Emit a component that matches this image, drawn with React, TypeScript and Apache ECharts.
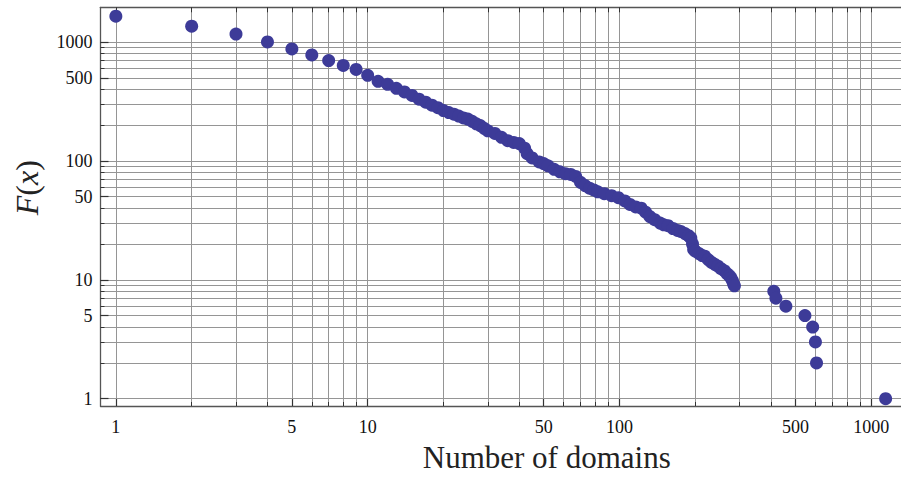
import React, { useEffect, useRef } from "react";
import * as echarts from "echarts";

// Number of domains (x) and F(x) (y)
const xValues = [
  1, 2, 3, 4, 5, 6, 7, 8, 9, 10, 11, 12, 13, 14, 15, 16, 17, 18, 19, 20,
  21, 22, 23, 24, 25, 26, 27, 28, 29, 30, 32, 34, 36, 38, 40, 42, 43, 45,
  48, 50, 52, 55, 58, 61, 64, 67, 70, 73, 76, 79, 82, 87, 93, 99, 105, 110,
  116, 122, 127, 132, 138, 145, 150, 156, 163, 170, 175, 182, 188, 192, 195,
  197, 200, 207, 213, 218, 225, 232, 239, 246, 253, 261, 268, 273, 277, 281,
  284, 286, 410, 418, 458, 545, 585, 600, 606, 1140,
];
const yValues = [
  1647, 1359, 1166, 1000, 874, 779, 698, 635, 588, 525, 467, 441, 408, 380,
  355, 330, 312, 294, 280, 265, 255, 247, 238, 230, 225, 215, 205, 198, 188,
  179, 170, 158, 148, 143, 140, 128, 115, 106, 98, 95, 91, 85, 81, 78, 77,
  74, 66, 62, 59, 57, 55, 53, 51, 49, 46, 43, 41, 40, 37, 34, 32, 30, 29,
  28.5, 27, 26, 25.5, 24.5, 23.5, 22.5, 20, 18, 17.4, 16.6, 16, 15.8, 14.8,
  14, 13.5, 13, 12.4, 11.9, 11.2, 10.8, 10.4, 9.8, 9.2, 8.9, 8, 7, 6, 5, 4,
  3, 2, 1,
];

const majorTicks = [1, 5, 10, 50, 100, 500, 1000];
const gridValues = [
  1, 2, 3, 4, 5, 6, 7, 8, 9, 10, 20, 30, 40, 50, 60, 70, 80, 90, 100, 200,
  300, 400, 500, 600, 700, 800, 900, 1000,
];
const xRange = [0.869, 1312];
const yRange = [0.868, 1958];

const serif = "'Liberation Serif', 'DejaVu Serif', serif";
const frameColor = "#555555";
const gridColor = "#959595";
const dotColor = "#3d3b98";

export default function App() {
  const ref = useRef<HTMLDivElement>(null);

  useEffect(() => {
    if (!ref.current) return;
    const chart = echarts.init(ref.current, undefined, { renderer: "svg" });
    const fmt = (v: number) => String(Math.round(v));

    const baseX = {
      type: "log" as const,
      logBase: 10,
      min: xRange[0],
      max: xRange[1],
      gridIndex: 0,
    };
    const baseY = {
      type: "log" as const,
      logBase: 10,
      min: yRange[0],
      max: yRange[1],
      gridIndex: 0,
    };

    chart.setOption({
      animation: false,
      backgroundColor: "#ffffff",
      grid: { left: 100.5, right: -2.2, top: 7.3, bottom: 68.2, containLabel: false },
      xAxis: [
        {
          ...baseX,
          position: "bottom",
          name: "Number of domains",
          nameLocation: "middle",
          nameGap: 36,
          nameTextStyle: {
            fontFamily: serif,
            fontSize: 31,
            color: "#222",
            padding: [0, 0, 0, 92],
          },
          axisLine: { show: true, lineStyle: { color: frameColor, width: 1.3 } },
          axisTick: {
            show: true,
            inside: true,
            length: 7,
            customValues: majorTicks,
            lineStyle: { color: "#333", width: 1.2 },
          },
          axisLabel: {
            show: true,
            customValues: majorTicks,
            formatter: fmt,
            fontFamily: serif,
            fontSize: 18,
            color: "#111",
            margin: 12,
          },
          splitLine: { show: false },
        },
        {
          ...baseX,
          position: "bottom",
          axisLine: { show: false },
          axisTick: {
            show: true,
            inside: true,
            length: 4,
            customValues: gridValues,
            lineStyle: { color: "#333", width: 1 },
          },
          axisLabel: { show: false },
          splitLine: { show: true, lineStyle: { color: gridColor, width: 1 } },
        },
        {
          ...baseX,
          position: "top",
          axisLine: { show: true, lineStyle: { color: frameColor, width: 1.3 } },
          axisTick: {
            show: true,
            inside: true,
            length: 5,
            customValues: gridValues,
            lineStyle: { color: "#333", width: 1 },
          },
          axisLabel: { show: false },
          splitLine: { show: false },
        },
      ],
      yAxis: [
        {
          ...baseY,
          position: "left",
          name: "{i|F}{n|(}{i|x}{n|)}",
          nameLocation: "middle",
          nameGap: 58,
          nameRotate: 90,
          nameTextStyle: {
            fontFamily: serif,
            fontSize: 32,
            color: "#222",
            padding: [0, 0, 0, 38],
            rich: {
              i: { fontFamily: serif, fontSize: 32, fontStyle: "italic", color: "#222" },
              n: { fontFamily: serif, fontSize: 32, color: "#222" },
            },
          },
          axisLine: { show: true, lineStyle: { color: frameColor, width: 1.3 } },
          axisTick: {
            show: true,
            inside: true,
            length: 8,
            customValues: majorTicks,
            lineStyle: { color: "#333", width: 1.2 },
          },
          axisLabel: {
            show: true,
            customValues: majorTicks,
            formatter: fmt,
            fontFamily: serif,
            fontSize: 18,
            color: "#111",
            margin: 8,
          },
          splitLine: { show: false },
        },
        {
          ...baseY,
          position: "left",
          axisLine: { show: false },
          axisTick: {
            show: true,
            inside: true,
            length: 4,
            customValues: gridValues,
            lineStyle: { color: "#333", width: 1 },
          },
          axisLabel: { show: false },
          splitLine: { show: true, lineStyle: { color: gridColor, width: 1 } },
        },
      ],
      series: [
        {
          type: "scatter",
          xAxisIndex: 0,
          yAxisIndex: 0,
          symbol: "circle",
          symbolSize: 13,
          itemStyle: { color: dotColor, opacity: 1 },
          data: xValues.map((x, i) => [x, yValues[i]]),
          z: 5,
        },
      ],
    });

    return () => chart.dispose();
  }, []);

  return (
    <div
      ref={ref}
      style={{ position: "fixed", left: 0, top: 0, width: 901, height: 478 }}
    />
  );
}
